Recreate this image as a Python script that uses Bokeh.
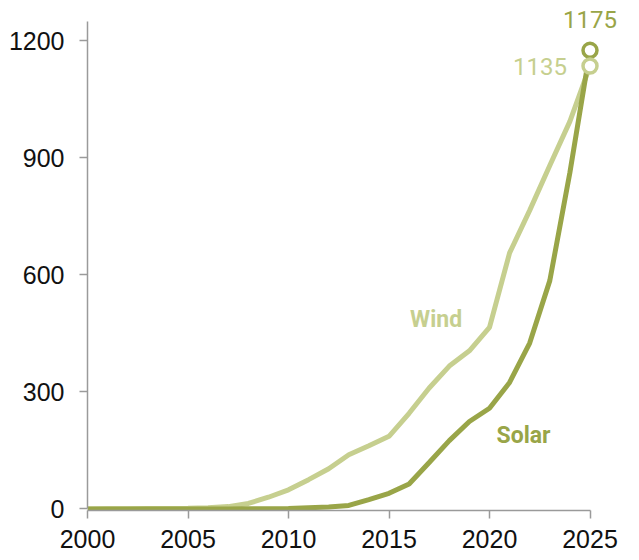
from bokeh.plotting import figure
from bokeh.models import Range1d, FixedTicker, ColumnDataSource
from bokeh.core.properties import value
from bokeh.embed import file_html
from bokeh.resources import INLINE

# Installed capacity by year
years = list(range(2000, 2026))
wind = [0, 0.5, 0.6, 1, 1, 1.5, 3, 6, 14, 30, 49, 75, 103, 139, 162, 186,
        245, 310, 366, 405, 465, 656, 765, 880, 993, 1135]
solar = [0, 0, 0, 0, 0, 0, 0, 0, 0.5, 0.5, 1, 3, 5, 9, 24, 40,
         64, 119, 175, 224, 258, 324, 425, 585, 862, 1175]

x_ticks = [2000, 2005, 2010, 2015, 2020, 2025]
y_ticks = [0, 300, 600, 900, 1200]

WIND_COLOR = "#c6cf8f"
SOLAR_COLOR = "#99a548"

# 20.1 px per year, 0.3903 px per unit of capacity
p = figure(
    width=639, height=560,
    frame_width=552, frame_height=506,
    min_border_left=87, min_border_right=0,
    min_border_top=4, min_border_bottom=50,
    x_range=Range1d(2000, 2000 + 552 / 20.1),
    y_range=Range1d(-4, -4 + 506 / 0.3903),
    output_backend="svg", toolbar_location=None,
)
p.outline_line_color = None
p.grid.visible = False
p.background_fill_color = "white"
p.border_fill_color = "white"

for ax in (p.xaxis[0], p.yaxis[0]):
    ax.axis_line_color = "#9a9a9a"
    ax.axis_line_width = 1.5
    ax.major_tick_line_color = "#9a9a9a"
    ax.major_tick_line_width = 1.5
    ax.major_tick_out = 8
    ax.major_tick_in = 0
    ax.minor_tick_line_color = None
    ax.major_label_text_font = "Liberation Sans"
    ax.major_label_text_font_size = "25px"
    ax.major_label_text_color = "#111111"

p.xaxis.ticker = FixedTicker(ticks=x_ticks)
p.xaxis.bounds = (2000, 2025)
p.xaxis.major_label_standoff = 11

p.yaxis.ticker = FixedTicker(ticks=y_ticks)
p.yaxis.bounds = (0, 1250)
p.yaxis.major_label_standoff = 15

src = ColumnDataSource(dict(year=years, wind=wind, solar=solar))
p.line("year", "wind", source=src, line_color=WIND_COLOR, line_width=5)
p.line("year", "solar", source=src, line_color=SOLAR_COLOR, line_width=5)

# End-point markers and value labels
end_year = years[-1]
p.scatter([end_year], [solar[-1]], marker="circle", size=14, fill_color="white",
          line_color=SOLAR_COLOR, line_width=3.5)
p.scatter([end_year], [wind[-1]], marker="circle", size=14, fill_color="white",
          line_color=WIND_COLOR, line_width=3.5)

p.text([end_year], [solar[-1]], text=[str(solar[-1])], text_align="center",
       text_baseline="middle", y_offset=-31, text_font=value("Roboto"),
       text_font_size="24px", text_color=SOLAR_COLOR)
p.text([end_year], [wind[-1]], text=[str(wind[-1])], text_align="right",
       text_baseline="middle", x_offset=-23, y_offset=1, text_font=value("Roboto"),
       text_font_size="24px", text_color=WIND_COLOR)

# Series names
p.text([2016.05], [485], text=["Wind"], text_align="left", text_baseline="middle",
       text_font=value("Roboto"), text_font_style="bold", text_font_size="23px",
       text_color=WIND_COLOR)
p.text([2020.35], [188], text=["Solar"], text_align="left", text_baseline="middle",
       text_font=value("Roboto"), text_font_style="bold", text_font_size="23px",
       text_color=SOLAR_COLOR)

open("out.html", "w").write(file_html(p, INLINE))
